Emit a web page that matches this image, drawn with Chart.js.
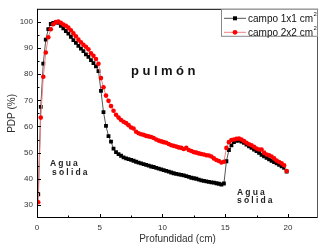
<!DOCTYPE html>
<html><head><meta charset="utf-8">
<script src="https://cdn.jsdelivr.net/npm/chart.js@4.4.1/dist/chart.umd.min.js"></script>
<style>html,body{margin:0;padding:0;background:#fff}#wrap{width:328px;height:247px;position:relative}</style>
</head><body><div id="wrap"><canvas id="c" width="328" height="247"></canvas></div>
<script>
const depth = [0.1,0.3,0.5,0.7,0.9,1.1,1.3,1.5,1.7,1.9,2.1,2.3,2.5,2.7,2.9,3.1,3.3,3.5,3.7,3.9,4.1,4.3,4.5,4.7,4.9,5.1,5.3,5.5,5.7,5.9,6.1,6.3,6.5,6.7,6.9,7.1,7.3,7.5,7.7,7.9,8.1,8.3,8.5,8.7,8.9,9.1,9.3,9.5,9.7,9.9,10.1,10.3,10.5,10.7,10.9,11.1,11.3,11.5,11.7,11.9,12.1,12.3,12.5,12.7,12.9,13.1,13.3,13.5,13.7,13.9,14.1,14.3,14.5,14.7,14.9,15.1,15.3,15.5,15.7,15.9,16.1,16.3,16.5,16.7,16.9,17.1,17.3,17.5,17.7,17.9,18.1,18.3,18.5,18.7,18.9,19.1,19.3,19.5,19.7,19.9];
const campo1x1 = [34,67.5,84,93.2,97.2,99.2,99.6,99.8,99.6,98.5,97.5,96.5,95.5,94.3,93,92,90.8,89.8,88.8,87.6,86.6,85.4,84.2,83,81.2,73.6,65.5,60.2,56.3,54.2,51.5,50.2,49.4,48.8,48.2,47.8,47.5,47.2,46.9,46.5,46.2,45.9,45.6,45.3,45,44.7,44.5,44.2,43.9,43.6,43.3,43,42.7,42.4,42.1,41.9,41.7,41.5,41.3,41,40.7,40.4,40.2,40,39.7,39.4,39.2,39,38.8,38.6,38.5,38.3,38.1,37.8,38.2,46.7,51,52.8,54,54.5,54.6,54.2,53.7,53.1,52.4,51.8,51.2,50.6,49.9,49.2,48.6,48,47.4,46.9,46.4,45.9,45.3,44.8,44.2,42.7];
const campo2x2 = [31,63.4,79,88.3,94.1,97.2,99.1,99.9,100.1,99.6,99,98.5,97.8,96.8,95.6,94.5,93.2,92.2,91.2,90.5,89.5,88,87,85.8,84,78.5,75,71.8,69.8,67.8,66,64.5,63.4,62.5,61.8,61.3,60.5,59.6,59.2,58,57.4,57,56.8,56.4,56.2,56,55.6,55,54.6,54.3,54,53.8,53.3,52.8,52.6,52.3,52,51.8,51.4,51.8,51,50.6,50.2,50,49.7,49.5,49.3,49,48.9,48.5,47.8,47.2,46.8,46.2,46.5,51.8,54,54.8,55,55.3,55.4,55,54.4,53.8,53.2,52.8,52.2,51.6,51.2,51.2,50,49.3,49,48.5,47.8,47,46.4,45.9,45.2,43];
const xTicks = [0,5,10,15,20];
const xMinor = [2.5,7.5,12.5,17.5];
const yTicks = [30,40,50,60,70,80,90,100];
const yMinor = [35,45,55,65,75,85,95];
const seriesNames = ['campo 1x1 cm', 'campo 2x2 cm'];

const FONT = "'Liberation Sans', Arial, sans-serif";

const decor = {
  id: 'decor',
  afterDatasetsDraw(chart) {
    const ctx = chart.ctx, a = chart.chartArea;
    const xs = chart.scales.x, ys = chart.scales.y;
    ctx.save();
    ctx.lineWidth = 1;
    ctx.strokeStyle = '#000';
    ctx.beginPath();
    ctx.moveTo(a.left + 0.5, a.top + 0.5); ctx.lineTo(a.right - 0.5, a.top + 0.5);
    ctx.moveTo(a.left + 0.5, a.top); ctx.lineTo(a.left + 0.5, a.bottom);
    ctx.moveTo(a.left, a.bottom - 0.5); ctx.lineTo(a.right, a.bottom - 0.5);
    ctx.stroke();
    ctx.strokeStyle = '#555';
    ctx.beginPath();
    ctx.moveTo(a.right - 0.5, a.top); ctx.lineTo(a.right - 0.5, a.bottom);
    ctx.stroke();
    ctx.strokeStyle = '#000';
    ctx.beginPath();
    xTicks.forEach(v => { const p = Math.round(xs.getPixelForValue(v)) + 0.5; ctx.moveTo(p, a.bottom); ctx.lineTo(p, a.bottom - 4); });
    xMinor.forEach(v => { const p = Math.round(xs.getPixelForValue(v)) + 0.5; ctx.moveTo(p, a.bottom); ctx.lineTo(p, a.bottom - 2.5); });
    yTicks.forEach(v => { const p = Math.round(ys.getPixelForValue(v)) + 0.5; ctx.moveTo(a.left, p); ctx.lineTo(a.left + 4, p); });
    yMinor.forEach(v => { const p = Math.round(ys.getPixelForValue(v)) + 0.5; ctx.moveTo(a.left, p); ctx.lineTo(a.left + 2.5, p); });
    ctx.stroke();
    ctx.fillStyle = '#111';
    ctx.textAlign = 'left';
    ctx.textBaseline = 'alphabetic';
    ctx.font = 'bold 13px ' + FONT;
    ctx.letterSpacing = '3.5px';
    ctx.fillText('pulmón', 131, 75);
    ctx.font = 'bold 8.5px ' + FONT;
    ctx.letterSpacing = '2.2px';
    ctx.fillStyle = '#222';
    ctx.fillText('Agua', 50, 166);
    ctx.fillText('solida', 52, 175);
    ctx.fillText('Agua', 237, 195);
    ctx.fillText('solida', 237, 203);
    ctx.letterSpacing = '0px';
    ctx.font = '10px ' + FONT;
    ctx.fillStyle = '#333';
    ctx.textAlign = 'center';
    ctx.textBaseline = 'middle';
    ctx.fillText('Profundidad (cm)', (a.left + a.right) / 2, 239);
    ctx.save();
    ctx.translate(12, (a.top + a.bottom) / 2);
    ctx.rotate(-Math.PI / 2);
    ctx.fillText('PDP (%)', 0, 0);
    ctx.restore();
    const lx = 221, ly = a.top, lw = a.right - lx, lh = 28;
    ctx.fillStyle = '#fff';
    ctx.fillRect(lx, ly, lw, lh);
    ctx.strokeStyle = '#888';
    ctx.strokeRect(lx + 0.5, ly + 0.5, lw - 1, lh - 1);
    const rows = [
      {name: seriesNames[0], line: '#555', color: '#000', shape: 'rect', y: ly + 9.5},
      {name: seriesNames[1], line: '#f08080', color: '#f00', shape: 'circle', y: ly + 23.5}
    ];
    rows.forEach(r => {
      ctx.strokeStyle = r.line;
      ctx.beginPath(); ctx.moveTo(224, r.y); ctx.lineTo(246, r.y); ctx.stroke();
      ctx.fillStyle = r.color;
      if (r.shape === 'rect') ctx.fillRect(233, r.y - 2, 4, 4);
      else { ctx.beginPath(); ctx.arc(235, r.y, 2.4, 0, Math.PI * 2); ctx.fill(); }
      ctx.fillStyle = '#111';
      ctx.textAlign = 'left';
      ctx.textBaseline = 'middle';
      ctx.font = '10px ' + FONT;
      ctx.fillText(r.name, 248, r.y + 0.5);
      const w = ctx.measureText(r.name).width;
      ctx.font = '6px ' + FONT;
      ctx.fillText('2', 248 + w + 0.5, r.y - 4);
    });
    ctx.restore();
  }
};

new Chart(document.getElementById('c'), {
  type: 'line',
  data: {
    datasets: [
      {label: seriesNames[0], data: depth.map((x, i) => ({x, y: campo1x1[i]})), borderColor: '#555', borderWidth: 1,
       pointStyle: 'rect', pointRadius: 2.7, pointBackgroundColor: '#000', pointBorderWidth: 0, order: 2, tension: 0},
      {label: seriesNames[1], data: depth.map((x, i) => ({x, y: campo2x2[i]})), borderColor: '#f08080', borderWidth: 1,
       pointStyle: 'circle', pointRadius: 2.3, pointBackgroundColor: '#f00', pointBorderWidth: 0, order: 1, tension: 0}
    ]
  },
  options: {
    responsive: false, animation: false, devicePixelRatio: 1,
    layout: {padding: {left: 0, top: 5, right: 10, bottom: 0}},
    plugins: {legend: {display: false}, tooltip: {enabled: false}},
    scales: {
      x: {type: 'linear', min: 0, max: 22.4,
          afterBuildTicks: s => { s.ticks = xTicks.map(v => ({value: v})); },
          afterFit: s => { s.height = 29; },
          grid: {display: false, drawTicks: false}, border: {display: false},
          ticks: {font: {size: 8, family: FONT}, color: '#333', padding: 5, maxRotation: 0}},
      y: {type: 'linear', min: 25, max: 105,
          afterBuildTicks: s => { s.ticks = yTicks.map(v => ({value: v})); },
          afterFit: s => { s.width = 37; },
          grid: {display: false, drawTicks: false}, border: {display: false},
          ticks: {font: {size: 8, family: FONT}, color: '#333', padding: 4}}
    }
  },
  plugins: [decor]
});
</script></body></html>
